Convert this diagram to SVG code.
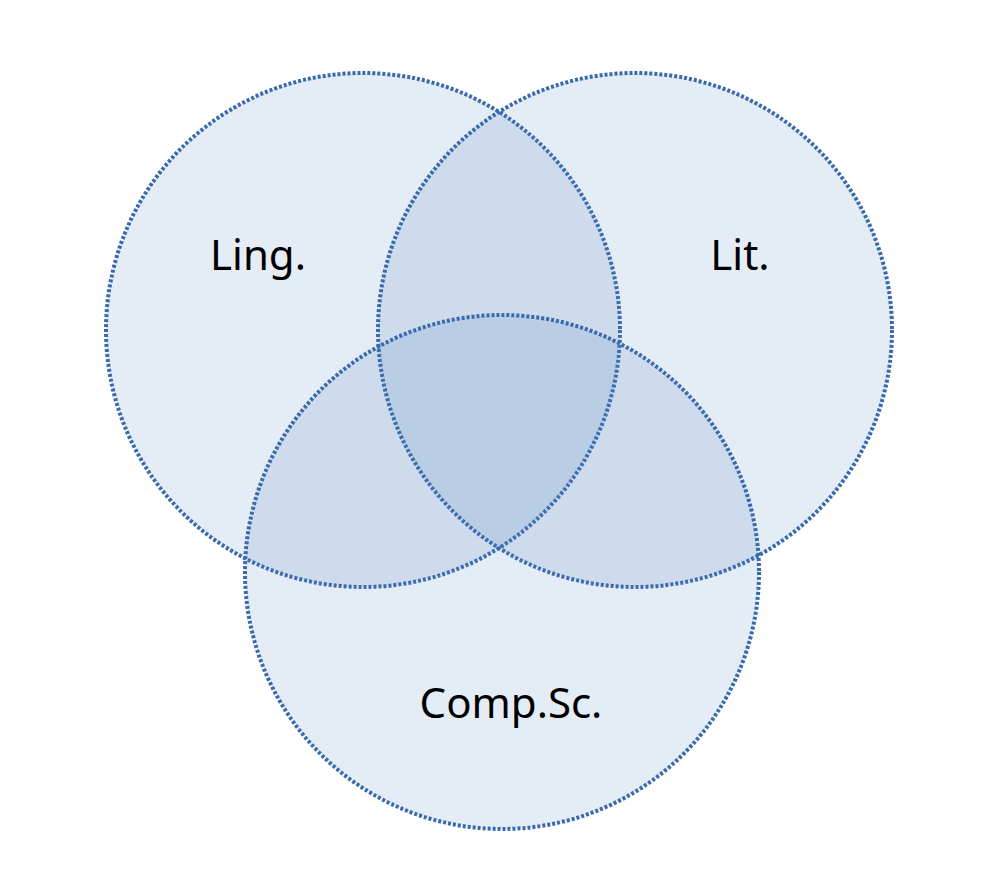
<svg xmlns="http://www.w3.org/2000/svg" width="992" height="880" viewBox="0 0 992 880">
<style>
.set{fill:#477dbc;fill-opacity:0.15;stroke:#3a6aae;stroke-width:4;stroke-dasharray:3 2}
.lbl{font-family:"Noto Sans","Open Sans",sans-serif;font-size:42px;fill:#000;text-anchor:middle}
</style>
<rect width="992" height="880" fill="#fff"/>
<g id="ling"><circle class="set" cx="363" cy="330" r="257"/><text class="lbl" x="258" y="270">Ling.</text></g>
<g id="lit"><circle class="set" cx="635" cy="330" r="257"/><text class="lbl" x="740" y="270">Lit.</text></g>
<g id="compsc"><circle class="set" cx="502" cy="572" r="257"/><text class="lbl" x="511" y="718">Comp.Sc.</text></g>
<g id="connectors"></g>
</svg>
